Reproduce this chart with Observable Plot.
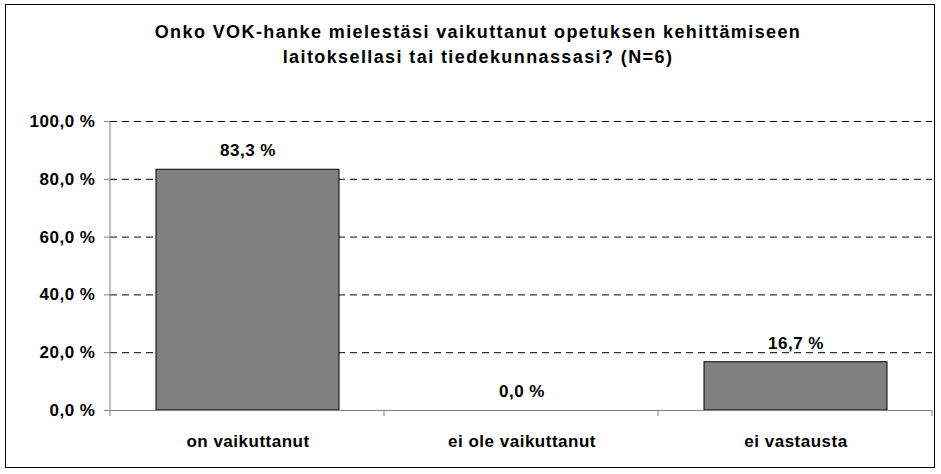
<!DOCTYPE html>
<html>
<head>
<meta charset="utf-8">
<script src="https://cdn.jsdelivr.net/npm/d3@7"></script>
<script src="https://cdn.jsdelivr.net/npm/@observablehq/plot@0.6"></script>
<style>
  html, body { margin: 0; padding: 0; background: #fff; }
  #wrap { position: relative; width: 941px; height: 474px; overflow: hidden; font-family: "Liberation Sans", Arial, sans-serif; }
  #border { position: absolute; left: 5px; top: 4px; width: 930px; height: 464px; border: 1px solid #000; box-sizing: border-box; }
  #title { position: absolute; left: 0; width: 956px; top: 20px; text-align: center; font-weight: bold; font-size: 18px; line-height: 25px; letter-spacing: 1.4px; color: #000; }
  #chart { position: absolute; left: 0; top: 80px; }
</style>
</head>
<body>
<div id="wrap">
  <div id="border"></div>
  <div id="title">Onko VOK-hanke mielestäsi vaikuttanut opetuksen kehittämiseen<br>laitoksellasi tai tiedekunnassasi? (N=6)</div>
  <div id="chart"></div>
</div>
<script>
const categories = ["on vaikuttanut", "ei ole vaikuttanut", "ei vastausta"];
const values = [83.3, 0.0, 16.7];
const valueLabels = ["83,3 %", "0,0 %", "16,7 %"];
const yTicks = [0, 20, 40, 60, 80, 100];
const yTickLabels = ["0,0 %", "20,0 %", "40,0 %", "60,0 %", "80,0 %", "100,0 %"];

const data = categories.map((c, i) => ({category: c, value: values[i], label: valueLabels[i]}));

function frameLines(index, scales, values, dim) {
  const g = d3.create("svg:g");
  const x0 = dim.marginLeft, x1 = dim.width - dim.marginRight;
  const y0 = dim.marginTop, y1 = dim.height - dim.marginBottom;
  g.append("line").attr("x1", x0).attr("x2", x0).attr("y1", y0).attr("y2", y1)
    .attr("stroke", "#808080");
  const n = categories.length;
  for (let i = 0; i <= n; i++) {
    const x = x0 + i * (x1 - x0) / n;
    g.append("line").attr("x1", x).attr("x2", x).attr("y1", y1).attr("y2", y1 + 6)
      .attr("stroke", "#808080");
  }
  return g.node();
}

const chart = Plot.plot({
  width: 941,
  height: 394,
  marginTop: 41,
  marginBottom: 64,
  marginLeft: 110,
  marginRight: 9,
  style: {fontFamily: "'Liberation Sans', Arial, sans-serif", fontSize: "17px", fontWeight: "bold", color: "#000", background: "transparent", letterSpacing: "0.5px"},
  x: {type: "band", domain: categories, paddingInner: 0.333, paddingOuter: 0.1665, axis: null},
  y: {domain: [0, 100], axis: null},
  marks: [
    Plot.ruleY(yTicks.filter(v => v > 0), {stroke: "#000", strokeDasharray: "7,5", strokeOpacity: 1}),
    Plot.barY(data, {x: "category", y: "value", fill: "#808080", stroke: "#000", strokeWidth: 1}),
    Plot.ruleY([0], {stroke: "#808080", strokeOpacity: 1}),
    frameLines,
    Plot.axisY({ticks: yTicks, tickFormat: d => yTickLabels[yTicks.indexOf(d)], tickSize: 6, tickPadding: 9, stroke: "#808080", fill: "#000", fontSize: 17, fontWeight: "bold", label: null}),
    Plot.axisX({tickSize: 0, tickPadding: 24, fill: "#000", fontSize: 17, fontWeight: "bold", label: null}),
    Plot.text(data, {x: "category", y: "value", text: "label", dy: -19, fill: "#000", fontSize: 17, fontWeight: "bold"})
  ]
});
document.getElementById("chart").appendChild(chart);
</script>
</body>
</html>
